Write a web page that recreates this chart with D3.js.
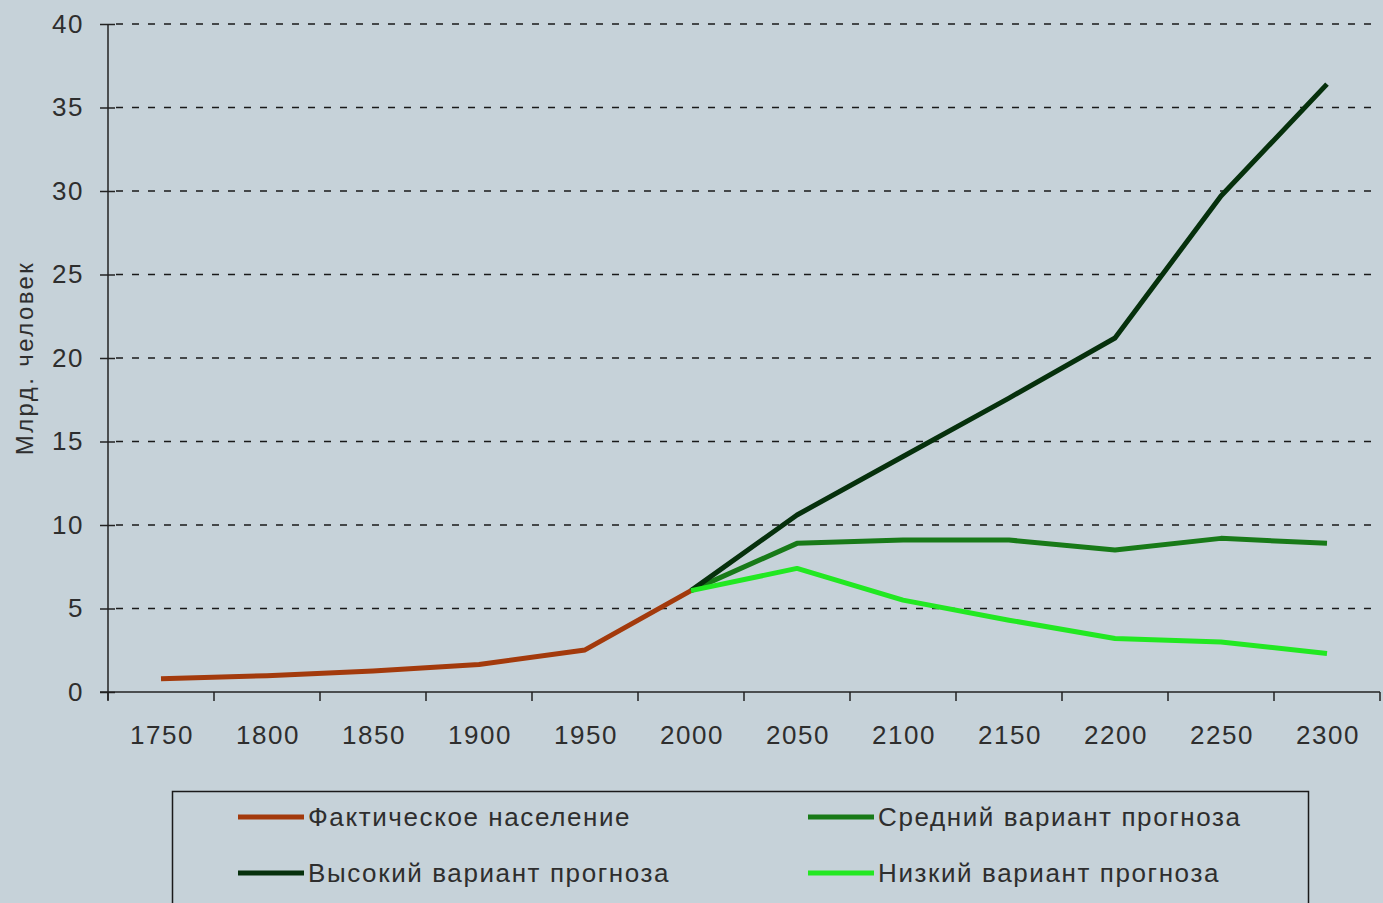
<!DOCTYPE html>
<html>
<head>
<meta charset="utf-8">
<script src="https://cdn.jsdelivr.net/npm/d3@7/dist/d3.min.js"></script>
<style>
	html, body { margin: 0; padding: 0; background: #c6d2d9; }
	svg { display: block; }
	text { font-family: "Liberation Sans", Arial, sans-serif; fill: #2e2e2e; }
</style>
</head>
<body>
<div id="chart"></div>
<script>
"use strict";

// categories on the x axis (one every 50 years)
var years = [1750, 1800, 1850, 1900, 1950, 2000, 2050, 2100, 2150, 2200, 2250, 2300];
var yTicks = [0, 5, 10, 15, 20, 25, 30, 35, 40];

// billions of people
var actualYears = [1750, 1800, 1850, 1900, 1950, 2000];
var actual = [0.79, 0.98, 1.26, 1.65, 2.52, 6.07];

var forecastYears = [2000, 2050, 2100, 2150, 2200, 2250, 2300];
var high = [6.07, 10.6, 14.1, 17.6, 21.2, 29.7, 36.4];
var medium = [6.07, 8.9, 9.1, 9.1, 8.5, 9.2, 8.9];
var low = [6.07, 7.4, 5.5, 4.3, 3.2, 3.0, 2.3];

var seriesNames = ["Фактическое население", "Высокий вариант прогноза", "Средний вариант прогноза", "Низкий вариант прогноза"];

// plot box (window.top is reserved, hence the m prefix)
var W = 1383, H = 903;
var mLeft = 108, mRight = 1380, mTop = 24, mBottom = 692;

var svg = d3.select("#chart").append("svg")
	.attr("width", W)
	.attr("height", H);

var xBand = d3.scaleBand().domain(years).range([mLeft, mRight]).padding(0);
var x = function (yr) { return xBand(yr) + xBand.bandwidth() / 2; };
var y = d3.scaleLinear().domain([0, 40]).range([mBottom, mTop]);

// dashed gridlines
svg.append("g")
	.selectAll("line")
	.data(yTicks.filter(function (d) { return d > 0; }))
	.enter().append("line")
	.attr("x1", mLeft + 8).attr("x2", mRight)
	.attr("y1", function (d) { return y(d); })
	.attr("y2", function (d) { return y(d); })
	.attr("stroke", "#1a1a1a")
	.attr("stroke-width", 1.6)
	.attr("stroke-dasharray", "7,9");

// y axis (ticks cross the line)
var yAxis = svg.append("g")
	.attr("transform", "translate(" + mLeft + ",0)")
	.call(d3.axisLeft(y).tickValues(yTicks).tickSize(8).tickPadding(16));
yAxis.selectAll(".tick line").clone().attr("x2", 7);
yAxis.selectAll("line, path").attr("stroke", "#222").attr("stroke-width", 1.5);
yAxis.select(".domain").attr("d", "M0," + mTop + "V" + (mBottom + 8));
yAxis.selectAll("text")
	.style("font-size", "26px")
	.style("letter-spacing", "1.5px")
	.attr("fill", "#2e2e2e");

// x axis: ticks between categories, labels centred
var xg = svg.append("g");
xg.append("line")
	.attr("x1", mLeft - 8).attr("x2", mRight)
	.attr("y1", mBottom).attr("y2", mBottom)
	.attr("stroke", "#222").attr("stroke-width", 1.5);
xg.selectAll("line.tk")
	.data(years.map(function (d) { return xBand(d); }).concat([mRight]))
	.enter().append("line")
	.attr("class", "tk")
	.attr("x1", function (d) { return d; })
	.attr("x2", function (d) { return d; })
	.attr("y1", mBottom).attr("y2", mBottom + 9)
	.attr("stroke", "#222").attr("stroke-width", 1.5);
xg.selectAll("text")
	.data(years)
	.enter().append("text")
	.attr("x", function (d) { return x(d) + 1; })
	.attr("y", 744)
	.attr("text-anchor", "middle")
	.style("font-size", "26px")
	.style("letter-spacing", "1.6px")
	.text(function (d) { return d; });

// y axis title
svg.append("text")
	.attr("transform", "translate(33,358) rotate(-90)")
	.attr("text-anchor", "middle")
	.style("font-size", "24px")
	.style("letter-spacing", "2.4px")
	.text("Млрд. человек");

var line = d3.line()
	.x(function (d) { return x(d[0]); })
	.y(function (d) { return y(d[1]); });

var series = [
	{ name: seriesNames[0], color: "#a33a0c", pts: d3.zip(actualYears, actual) },
	{ name: seriesNames[2], color: "#187a18", pts: d3.zip(forecastYears, medium) },
	{ name: seriesNames[1], color: "#06300c", pts: d3.zip(forecastYears, high) },
	{ name: seriesNames[3], color: "#22e822", pts: d3.zip(forecastYears, low) }
];

svg.append("g")
	.selectAll("path")
	.data(series)
	.enter().append("path")
	.attr("d", function (d) { return line(d.pts); })
	.attr("fill", "none")
	.attr("stroke", function (d) { return d.color; })
	.attr("stroke-width", 5)
	.attr("stroke-linejoin", "round");

// legend
var legend = svg.append("g");
legend.append("rect")
	.attr("x", 172.5).attr("y", 791.5)
	.attr("width", 1136).attr("height", 140)
	.attr("fill", "none")
	.attr("stroke", "#1a1a1a")
	.attr("stroke-width", 1.5);

var legendItems = [
	{ name: seriesNames[0], color: "#a33a0c", lx: 238, ly: 817 },
	{ name: seriesNames[1], color: "#06300c", lx: 238, ly: 873 },
	{ name: seriesNames[2], color: "#187a18", lx: 808, ly: 817 },
	{ name: seriesNames[3], color: "#22e822", lx: 808, ly: 873 }
];

var li = legend.selectAll("g.item")
	.data(legendItems)
	.enter().append("g")
	.attr("class", "item");
li.append("line")
	.attr("x1", function (d) { return d.lx; })
	.attr("x2", function (d) { return d.lx + 66; })
	.attr("y1", function (d) { return d.ly; })
	.attr("y2", function (d) { return d.ly; })
	.attr("stroke", function (d) { return d.color; })
	.attr("stroke-width", 5);
li.append("text")
	.attr("x", function (d) { return d.lx + 70; })
	.attr("y", function (d) { return d.ly + 9; })
	.style("font-size", "26px")
	.style("letter-spacing", "1.6px")
	.text(function (d) { return d.name; });
</script>
</body>
</html>
